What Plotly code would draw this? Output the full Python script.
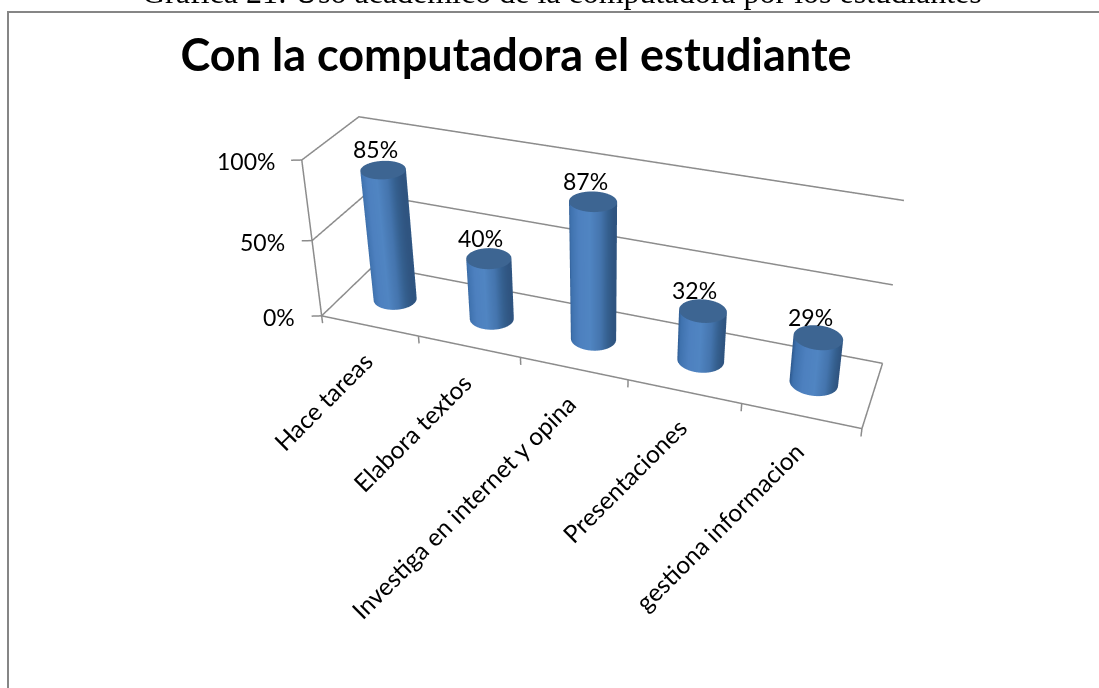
import numpy as np
import plotly.graph_objects as go

# Chart data
CATEGORIES = ["Hace tareas", "Elabora textos", "Investiga en internet y opina", "Presentaciones", "gestiona informacion"]
VALUES = [0.85, 0.40, 0.87, 0.32, 0.29]
VALUE_LABELS = ["85%", "40%", "87%", "32%", "29%"]
Z_TICKS = [0.0, 0.5, 1.0]
Z_LABELS = ["0%", "50%", "100%"]
TITLE = "Con la computadora el estudiante"
CAPTION = "Gráfica 21: Uso académico de la computadora por los estudiantes"

# View of the 3D box
EYE = dict(x=0.5159, y=-2.1536, z=1.8907)
CENTER = dict(x=-0.0856, y=-0.1739, z=-0.1582)
UP = dict(x=-0.2001, y=0.6746, z=0.7106)
BOX = (2.0, 0.3348, 0.5402)
PAD = 2.8
SHEAR = (0.0307, -0.0395, 0.0403, 0.6684)

# Cylinder look
RADIUS_X = 0.205
RADIUS_Y = 0.19
SIDE_SCALE = [[0, "#2a5488"], [0.12, "#3f72ae"], [0.35, "#4d80bf"], [0.6, "#5085c2"],
              [0.8, "#4575ae"], [0.92, "#35608f"], [1, "#2f5480"]]
CAP_COLOR = "#3d6592"
LINE_COLOR = "#8c8c8c"
FLAT_LIGHT = dict(ambient=1, diffuse=0, specular=0, fresnel=0, roughness=1)

W, H = 1099, 688


def lean(x, y, z):
    """Oblique view: x in category units, y in depth 0..1, z in value units."""
    x, y, z = np.asarray(x, float), np.asarray(y, float), np.asarray(z, float)
    return x + 5 * (SHEAR[0] * y + SHEAR[1] * z), y + SHEAR[2] * x / 5 + SHEAR[3] * z, z


fig = go.Figure()

# Cylinders: shaded side plus a flat cap at the value height
theta = np.linspace(0, 2 * np.pi, 145)
for i, v in enumerate(VALUES):
    xs = i + 0.5 + RADIUS_X * np.cos(theta)
    ys = 0.5 + RADIUS_Y * np.sin(theta)
    X, Y, Z = lean(np.array([xs, xs]), np.array([ys, ys]), np.array([theta * 0, theta * 0 + v]))
    fig.add_trace(go.Surface(x=X, y=Y, z=Z, surfacecolor=np.array([np.cos(theta), np.cos(theta)]),
                             cmin=-1, cmax=1, colorscale=SIDE_SCALE, showscale=False,
                             hoverinfo="skip", lighting=FLAT_LIGHT))
    rr = np.array([0, 1.0])
    X, Y, Z = lean(i + 0.5 + np.outer(rr, RADIUS_X * np.cos(theta)),
                   0.5 + np.outer(rr, RADIUS_Y * np.sin(theta)),
                   np.full((2, theta.size), v))
    fig.add_trace(go.Surface(x=X, y=Y, z=Z, surfacecolor=np.zeros((2, theta.size)),
                             cmin=0, cmax=1, colorscale=[[0, CAP_COLOR], [1, CAP_COLOR]],
                             showscale=False, hoverinfo="skip", lighting=FLAT_LIGHT))

# Wall gridlines, floor outline, axis line and tick stubs
lx, ly, lz = [], [], []


def seg(*pts):
    for q in pts:
        a, b, c = lean(*q)
        lx.append(float(a))
        ly.append(float(b))
        lz.append(float(c))
    lx.append(None)
    ly.append(None)
    lz.append(None)


for z in Z_TICKS:
    seg((0, 0, z), (0, 1, z), (5, 1, z))
    seg((0, 0, z), (-0.085, -0.035, z))
seg((0, 0, 0), (0, 0, 1))
seg((0, 0, 0), (5, 0, 0), (5, 1, 0))
for i in range(len(CATEGORIES) + 1):
    seg((i, 0, 0), (i, 0, -0.05))
fig.add_trace(go.Scatter3d(x=lx, y=ly, z=lz, mode="lines", line=dict(color=LINE_COLOR, width=3),
                           hoverinfo="skip", showlegend=False))


def anchor(x, y, z):
    a, b, c = lean(x, y, z)
    return dict(x=float(a), y=float(b), z=float(c))


scene_text = []
for i, (v, label) in enumerate(zip(VALUES, VALUE_LABELS)):
    scene_text.append(dict(**anchor(i + 0.5, 0.5, v), text=label, showarrow=False, yshift=21, xshift=-8,
                           font=dict(family="Lato", size=23, color="black")))
for z, label in zip(Z_TICKS, Z_LABELS):
    scene_text.append(dict(**anchor(0, 0, z), text=label, showarrow=False, xanchor="right", xshift=-25, yshift=-1,
                           font=dict(family="Lato", size=23, color="black")))
for i, name in enumerate(CATEGORIES):
    scene_text.append(dict(**anchor(i + 0.5, 0, 0), text=name, showarrow=False, xanchor="right", yanchor="top",
                           textangle=-45, yshift=-18, xshift=11,
                           font=dict(family="Lato", size=24.5, color="black")))

hidden = dict(visible=False, showgrid=False, zeroline=False, showline=False, showticklabels=False,
              showbackground=False, showspikes=False)
half = PAD / 2
fig.update_layout(
    width=W, height=H, margin=dict(l=0, r=0, t=0, b=0), paper_bgcolor="white", showlegend=False,
    title=dict(text=f"<b>{TITLE}</b>", x=516 / W, y=1 - 55 / H, xanchor="center", yanchor="middle",
               font=dict(family="Lato", size=45, color="black")),
    scene=dict(
        domain=dict(x=[0, 1], y=[0, 1]),
        xaxis=dict(range=[5 * (0.5 - half), 5 * (0.5 + half)], **hidden),
        yaxis=dict(range=[0.5 - half, 0.5 + half], **hidden),
        zaxis=dict(range=[0.5 - half, 0.5 + half], **hidden),
        aspectmode="manual",
        aspectratio=dict(x=BOX[0] * PAD, y=BOX[1] * PAD, z=BOX[2] * PAD),
        camera=dict(eye=EYE, center=CENTER, up=UP, projection=dict(type="perspective")),
        annotations=scene_text,
    ),
    annotations=[dict(xref="paper", yref="paper", x=562 / W, y=1 - 12 / H, yanchor="bottom", showarrow=False,
                      text=CAPTION, font=dict(family="Liberation Serif", size=32, color="black"))],
    shapes=[
        dict(type="line", xref="paper", yref="paper", x0=8 / W, x1=8 / W, y0=0, y1=1 - 11 / H,
             line=dict(color="#868686", width=2)),
        dict(type="line", xref="paper", yref="paper", x0=8 / W, x1=1, y0=1 - 12 / H, y1=1 - 12 / H,
             line=dict(color="#868686", width=2)),
    ],
)
fig.write_html("out.html", config=dict(displayModeBar=False))
